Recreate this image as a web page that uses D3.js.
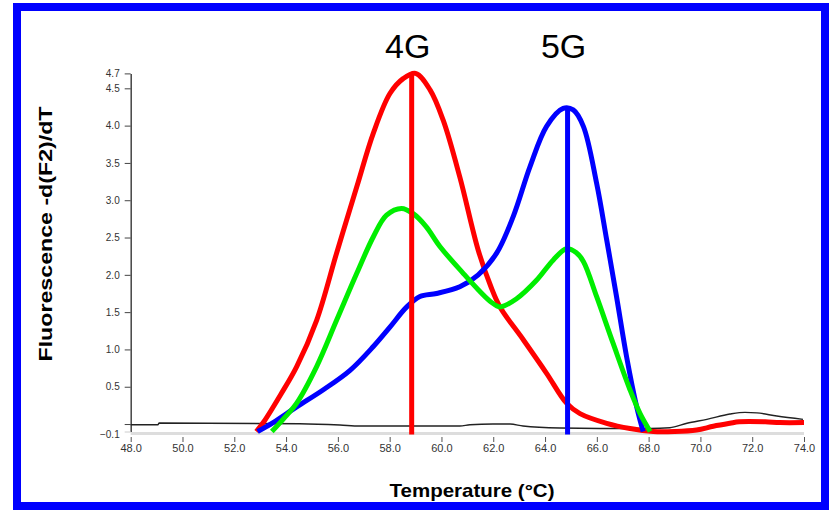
<!DOCTYPE html>
<html>
<head>
<meta charset="utf-8">
<script src="https://cdn.jsdelivr.net/npm/d3@7"></script>
<style>
  body { margin: 0; background: #fff; }
  svg { display: block; font-family: "Liberation Sans", Arial, sans-serif; }
</style>
</head>
<body>
<div id="chart"></div>
<script>
// melt curves: [temperature, -dF/dT]
const red4G = [
  [52.85, -0.1], [53.12, 0.02], [53.8, 0.4], [54.41, 0.77], [55.18, 1.39], [55.95, 2.29],
  [56.73, 3.18], [57.37, 3.9], [58.01, 4.43], [58.52, 4.63], [59.0, 4.7], [59.56, 4.48],
  [60.07, 4.07], [60.71, 3.31], [61.42, 2.33], [61.9, 1.85], [62.26, 1.57], [63.16, 1.13],
  [64.06, 0.68], [64.83, 0.28], [65.35, 0.14], [66.38, 0.01], [67.28, -0.06], [68.18, -0.1],
  [69.0, -0.1], [69.85, -0.08], [70.5, -0.03], [71.14, 0.01], [71.5, 0.03], [72.5, 0.03],
  [73.07, 0.02], [74.0, 0.02]
];
const green = [
  [53.45, -0.1], [53.9, 0.07], [54.41, 0.28], [55.18, 0.77], [55.95, 1.39], [56.73, 2.02],
  [57.37, 2.51], [57.88, 2.8], [58.46, 2.89], [58.91, 2.82], [59.4, 2.65], [59.94, 2.38],
  [60.84, 2.02], [61.42, 1.8], [61.9, 1.64], [62.26, 1.57], [62.9, 1.68], [63.68, 1.93],
  [64.32, 2.2], [64.83, 2.35], [65.2, 2.3], [65.48, 2.18], [65.99, 1.71], [66.63, 1.08],
  [67.28, 0.46], [67.67, 0.14], [68.06, -0.1]
];
const blue5G = [
  [52.9, -0.1], [53.5, 0.02], [54.41, 0.23], [55.44, 0.46], [56.47, 0.72], [57.37, 1.04],
  [58.01, 1.3], [58.66, 1.57], [59.17, 1.71], [59.81, 1.75], [60.71, 1.84], [61.42, 2.0],
  [62.13, 2.29], [62.77, 2.78], [63.42, 3.45], [64.06, 3.99], [64.7, 4.23], [65.09, 4.21],
  [65.48, 3.99], [65.99, 3.23], [66.38, 2.47], [66.76, 1.71], [67.15, 0.9], [67.54, 0.23],
  [67.79, -0.1]
];
const blank = [
  [48.0, -0.01], [49.05, -0.01], [49.1, 0.013], [54.53, 0.004], [56.08, -0.013], [56.85, -0.027],
  [60.71, -0.027], [61.1, -0.01], [61.99, 0.0], [62.65, 0.0], [63.15, -0.027], [64.58, -0.054],
  [66.12, -0.06], [68.05, -0.06], [68.82, -0.05], [69.48, 0.01], [70.25, 0.063], [71.14, 0.134],
  [71.72, 0.157], [72.18, 0.15], [72.95, 0.107], [73.96, 0.063]
];
// peak markers: [temperature, height]
const peaks = [
  { label: "4G", t: 58.85, v: 4.69, color: "#ff0000" },
  { label: "5G", t: 64.87, v: 4.23, color: "#0000ff" }
];
const xTicks = [48, 50, 52, 54, 56, 58, 60, 62, 64, 66, 68, 70, 72, 74];
const yTicks = [4.7, 4.5, 4.0, 3.5, 3.0, 2.5, 2.0, 1.5, 1.0, 0.5, 0, -0.1];

const width = 830, height = 511;
const svg = d3.select("#chart").append("svg")
  .attr("width", width).attr("height", height);

// blue frame
svg.append("rect")
  .attr("x", 17).attr("y", 7).attr("width", 808).attr("height", 499)
  .attr("fill", "#fff").attr("stroke", "#0000ff").attr("stroke-width", 8);

const x = d3.scaleLinear().domain([48, 74]).range([130.7, 804]);
const y = d3.scaleLinear().domain([-0.1, 4.7]).range([431.5, 73.4]);

// light grey baseline
svg.append("line")
  .attr("x1", x(48)).attr("x2", x(74))
  .attr("y1", y(-0.1) + 2).attr("y2", y(-0.1) + 2)
  .attr("stroke", "#dddddd").attr("stroke-width", 3);

// x axis
const xAxis = svg.append("g")
  .attr("transform", "translate(0,437)")
  .call(d3.axisBottom(x).tickValues(xTicks).tickSize(5).tickPadding(2).tickFormat(d3.format(".1f")));
xAxis.select(".domain").remove();
xAxis.selectAll("line").attr("stroke", "#555");
xAxis.selectAll("text").attr("font-size", 11).attr("fill", "#333")
  .attr("font-family", "Liberation Sans, Arial, sans-serif");

// y axis
const yAxis = svg.append("g")
  .attr("transform", "translate(130.7,0)")
  .call(d3.axisLeft(y).tickValues(yTicks).tickSize(6).tickSizeOuter(0).tickPadding(5)
    .tickFormat(d => d === 0 ? "" : d3.format(".1f")(d)));
yAxis.select(".domain").attr("stroke", "#444").attr("stroke-width", 1.5);
yAxis.selectAll("line").attr("stroke", "#444");
yAxis.selectAll("text").attr("font-size", 10).attr("fill", "#333")
  .attr("font-family", "Liberation Sans, Arial, sans-serif");
yAxis.selectAll(".tick").filter(d => d === -0.1).select("text").attr("dy", "0.6em");
yAxis.selectAll(".tick").filter(d => d === -0.1).select("line").attr("stroke", "#ccc");

const line = d3.line()
  .x(d => x(d[0]))
  .y(d => y(d[1]))
  .curve(d3.curveCatmullRom);

svg.append("path").datum(blank)
  .attr("d", d3.line().x(d => x(d[0])).y(d => y(d[1])).curve(d3.curveMonotoneX))
  .attr("fill", "none").attr("stroke", "#222").attr("stroke-width", 1.4);

[[red4G, "#ff0000"], [blue5G, "#0000ff"], [green, "#00ee00"]].forEach(([data, color]) => {
  svg.append("path").datum(data)
    .attr("d", line)
    .attr("fill", "none")
    .attr("stroke", color)
    .attr("stroke-width", 5)
    .attr("stroke-linejoin", "round");
});

// vertical peak markers and labels
peaks.forEach(p => {
  svg.append("line")
    .attr("x1", x(p.t)).attr("x2", x(p.t))
    .attr("y1", y(p.v)).attr("y2", y(-0.14))
    .attr("stroke", p.color).attr("stroke-width", 5);
  svg.append("text")
    .attr("x", x(p.t) - 4).attr("y", 58)
    .attr("text-anchor", "middle")
    .attr("font-size", 34)
    .attr("fill", "#000")
    .text(p.label);
});

// axis titles
svg.append("text")
  .attr("x", 472).attr("y", 497)
  .attr("text-anchor", "middle")
  .attr("font-size", 19).attr("font-weight", "bold")
  .attr("textLength", 165).attr("lengthAdjust", "spacingAndGlyphs")
  .text("Temperature (°C)");

svg.append("text")
  .attr("transform", "translate(52,234) rotate(-90)")
  .attr("text-anchor", "middle")
  .attr("font-size", 19).attr("font-weight", "bold")
  .attr("textLength", 255).attr("lengthAdjust", "spacingAndGlyphs")
  .text("Fluorescence -d(F2)/dT");
</script>
</body>
</html>
